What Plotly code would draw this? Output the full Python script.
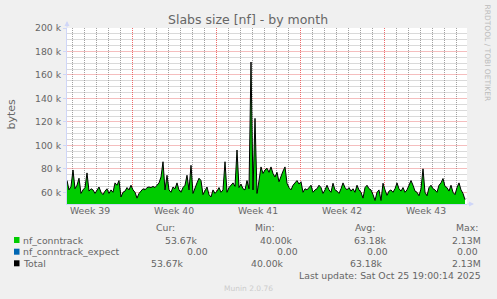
import plotly.graph_objects as go
import pandas as pd

# ---------------- data ----------------
series_names = ["nf_conntrack", "nf_conntrack_expect", "Total"]
series_colors = ["#00CC00", "#0066B3", "#000000"]

sample_start = "2025-09-23 14:00"
sample_freq = "4h"

# nf_conntrack slab size, in kB (one value every 4 h)
conntrack_k = [
    70, 62, 65, 79, 63, 66, 72, 59, 62, 64,
    76.5, 61, 63, 62, 59, 62, 64.5, 60, 58, 61,
    63, 59, 62, 60, 68, 66, 70, 56, 60, 61,
    64, 62, 66, 62, 60, 55, 59, 61, 63, 62,
    64, 64.5, 64, 65, 64, 66, 68, 73, 86, 62,
    74.5, 62, 60, 64.5, 63, 68, 62, 60, 64, 66,
    74.5, 62, 83, 59, 64, 68, 72, 70, 58, 62,
    64.5, 58, 56, 62, 59, 61, 64, 60, 62, 86,
    60, 64, 66, 68, 65, 96, 64, 67, 63, 62,
    70, 63, 171, 62, 123, 59, 70, 81.6, 76, 79,
    80.5, 77, 81.6, 76, 73, 77, 69, 74.5, 78, 81.6,
    67.7, 64, 62, 66, 68, 70, 67, 69, 60, 63,
    62, 64, 66, 60, 62, 63, 66, 64, 59, 62,
    66, 62, 60, 67.7, 62, 61, 59, 63, 68, 64,
    62, 64, 61, 63, 60, 66, 62, 60, 55, 64,
    66, 63, 62, 58, 53, 60, 62, 53, 67.7, 62,
    57.4, 61, 62, 60, 63, 68, 63, 61, 64, 60,
    62, 66, 70, 66, 61, 60, 57, 63, 80, 60,
    57, 64, 66, 63, 62, 60, 66, 68, 71.7, 65,
    64, 61, 66, 60, 58, 64, 68, 62, 59, 53.67,
]
# nf_conntrack_expect is flat zero
expect_k = [0] * len(conntrack_k)

# 400 px wide plot = 33 1/3 days (12 px per day)
x_range = ["2025-09-23 14:00", "2025-10-26 22:00"]
week_starts = ["2025-09-29", "2025-10-06", "2025-10-13", "2025-10-20"]
week_label_pos = ["2025-09-25 12:00", "2025-10-02 12:00", "2025-10-09 12:00",
                  "2025-10-16 12:00", "2025-10-23 12:00"]
week_labels = ["Week 39", "Week 40", "Week 41", "Week 42", "Week 43"]

y_range = [50000, 200000]
y_tickvals = [60000, 80000, 100000, 120000, 140000, 160000, 180000, 200000]
y_ticktext = ["60 k", "80 k", "100 k", "120 k", "140 k", "160 k", "180 k", "200 k"]

legend_heads = ["Cur:", "Min:", "Avg:", "Max:"]
legend_values = [
    ["53.67k", "40.00k", "63.18k", "2.13M"],
    ["0.00", "0.00", "0.00", "0.00"],
    ["53.67k", "40.00k", "63.18k", "2.13M"],
]
title_text = "Slabs size [nf] - by month"
y_title = "bytes"
last_update = "Last update: Sat Oct 25 19:00:14 2025"
munin_ver = "Munin 2.0.76"
rrd_credit = "RRDTOOL / TOBI OETIKER"

# ---------------- build ----------------
times = pd.date_range(sample_start, periods=len(conntrack_k), freq=sample_freq)
conntrack = [v * 1000 for v in conntrack_k]
expect = [v * 1000 for v in expect_k]
total = [a + b for a, b in zip(conntrack, expect)]

week_ts = set(pd.to_datetime(week_starts))
day_grid = [d for d in pd.date_range("2025-09-24", "2025-10-26", freq="1D") if d not in week_ts]
y_minor = [v for v in range(55000, 200001, 5000) if v not in y_tickvals]

FONT = "DejaVu Sans"
TXT = "#666666"
AXIS = "#CFD6F8"
GRID = "rgba(130,130,130,0.75)"
MGRID = "rgba(235,70,70,0.8)"
YGRID = "rgba(150,150,150,0.35)"
YMGRID = "rgba(232,100,100,0.42)"
DASH = "1px,1px"

L, R, T, B = 67, 30, 28, 95
W, H = 497, 299
PW, PH = W - L - R, H - T - B


def px(x):
    return (x - L) / PW


def py(y):
    return (H - B - y) / PH


fig = go.Figure()
fig.add_trace(go.Scatter(x=times, y=conntrack, mode="lines",
                         line=dict(width=0, color=series_colors[0]),
                         fill="tozeroy", fillcolor=series_colors[0],
                         hoverinfo="skip", showlegend=False))
fig.add_trace(go.Scatter(x=times, y=total, mode="lines",
                         line=dict(width=0, color=series_colors[1]),
                         fill="tonexty", fillcolor=series_colors[1],
                         hoverinfo="skip", showlegend=False))
fig.add_trace(go.Scatter(x=times, y=total, xaxis="x2", mode="lines",
                         line=dict(width=1, color=series_colors[2]),
                         hoverinfo="skip", showlegend=False))

fig.update_layout(
    width=W, height=H,
    margin=dict(l=L, r=R, t=T, b=B, pad=0),
    paper_bgcolor="#F0F0F0", plot_bgcolor="#FFFFFF",
    font=dict(family=FONT, size=9.3, color=TXT),
    xaxis=dict(
        type="date", range=x_range, tickmode="array", tickvals=week_starts,
        showticklabels=False, showgrid=True, gridcolor=MGRID, griddash=DASH,
        gridwidth=1, zeroline=False, ticks="",
        showline=True, linecolor=AXIS, linewidth=1,
        minor=dict(tickmode="array", tickvals=day_grid, showgrid=True,
                   gridcolor=GRID, griddash=DASH, gridwidth=1, ticks=""),
    ),
    xaxis2=dict(
        type="date", range=x_range, overlaying="x", anchor="y", side="bottom",
        tickmode="array", tickvals=week_label_pos, ticktext=week_labels,
        showgrid=False, zeroline=False, ticks="", showline=False,
        tickfont=dict(size=9.3, color=TXT),
    ),
    yaxis=dict(
        range=y_range, tickmode="array", tickvals=y_tickvals, ticktext=y_ticktext,
        showgrid=True, gridcolor=YMGRID, griddash="solid", gridwidth=1,
        zeroline=False, showline=True, linecolor=AXIS, linewidth=1,
        ticks="outside", ticklen=3, tickcolor=AXIS,
        tickfont=dict(size=9.3, color=TXT),
        minor=dict(tickmode="array", tickvals=y_minor, showgrid=True, gridcolor=YGRID,
                   griddash="solid", gridwidth=1, ticks=""),
    ),
)

ann = []
ann.append(dict(text=title_text, x=(248 - L) / PW, y=py(19), xref="paper", yref="paper",
                xanchor="center", yanchor="middle", showarrow=False,
                font=dict(size=12.5, color=TXT)))
ann.append(dict(text=y_title, x=px(10.5), y=py(114), xref="paper", yref="paper",
                xanchor="center", yanchor="middle", textangle=-90, showarrow=False,
                font=dict(size=11, color=TXT)))
ann.append(dict(text=rrd_credit, x=px(487.5), y=py(53), xref="paper", yref="paper",
                xanchor="center", yanchor="middle", textangle=90, showarrow=False,
                font=dict(size=7.5, color="#BBBBBB")))
ann.append(dict(text="", x=0, y=py(21), xref="paper", yref="paper", ax=0, ay=8,
                showarrow=True, arrowhead=2, arrowsize=1, arrowwidth=1, arrowcolor=AXIS))
ann.append(dict(text="", x=px(474), y=0, xref="paper", yref="paper", ax=-8, ay=0,
                showarrow=True, arrowhead=2, arrowsize=1, arrowwidth=1, arrowcolor=AXIS))

head_x = [154, 253, 353, 454]
for hx, h in zip(head_x, legend_heads):
    ann.append(dict(text=h, x=px(hx), y=py(227), xref="paper", yref="paper",
                    xanchor="left", yanchor="middle", showarrow=False,
                    font=dict(size=9.3, color=TXT)))

row_y = [240, 251.7, 263.3]
value_right = [
    [200, 295, 389, 483],
    [210, 300, 390, 480],
    [186, 286, 385, 483],
]
shapes = []
for r, (name, col) in enumerate(zip(series_names, series_colors)):
    yy = row_y[r]
    shapes.append(dict(type="rect", xref="paper", yref="paper",
                       x0=px(14), x1=px(19.5), y0=py(yy + 3), y1=py(yy - 3),
                       fillcolor=col, line=dict(width=0)))
    ann.append(dict(text=name, x=px(20.5), y=py(yy), xref="paper", yref="paper",
                    xanchor="left", yanchor="middle", showarrow=False,
                    font=dict(size=9.3, color=TXT)))
    for vx, v in zip(value_right[r], legend_values[r]):
        ann.append(dict(text=v, x=px(vx), y=py(yy), xref="paper", yref="paper",
                        xanchor="right", yanchor="middle", showarrow=False,
                        font=dict(size=9.3, color=TXT)))

ann.append(dict(text=last_update, x=px(483), y=py(275.3), xref="paper", yref="paper",
                xanchor="right", yanchor="middle", showarrow=False,
                font=dict(size=9.3, color=TXT)))
ann.append(dict(text=munin_ver, x=px(248), y=py(288.3), xref="paper", yref="paper",
                xanchor="center", yanchor="middle", showarrow=False,
                font=dict(size=7.5, color="#CCCCCC")))

fig.update_layout(annotations=ann, shapes=shapes)
fig.write_html("out.html")
